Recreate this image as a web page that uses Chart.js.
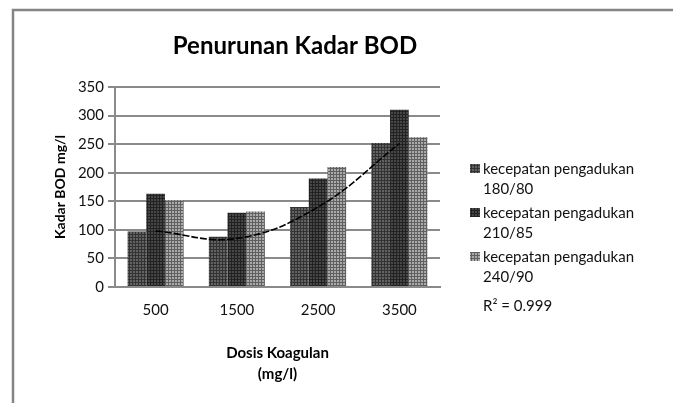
<!DOCTYPE html>
<html>
<head>
<meta charset="utf-8">
<script src="https://cdn.jsdelivr.net/npm/chart.js@4.4.0/dist/chart.umd.min.js"></script>
<style>
  html, body { margin: 0; padding: 0; background: #fff; }
  #wrap { position: relative; width: 673px; height: 403px; }
</style>
</head>
<body>
<div id="wrap"><canvas id="myChart" width="673" height="403"></canvas></div>
<script>
// data
var dosis = ['500', '1500', '2500', '3500'];
var kec180 = [97, 88, 140, 252];
var kec210 = [163, 130, 190, 310];
var kec240 = [152, 132, 210, 262];
var trend = [98, 85, 140, 251];
var seriesNames = [
  ['kecepatan pengadukan', '180/80'],
  ['kecepatan pengadukan', '210/85'],
  ['kecepatan pengadukan', '240/90']
];
var r2Text = 'R² = 0.999';
var yTicks = [0, 50, 100, 150, 200, 250, 300, 350];

var FONT = 'Lato, "Open Sans", sans-serif';
var ctx = document.getElementById('myChart');
var c2d = ctx.getContext('2d');

// small dotted textures for the bars
function texture(base, dot) {
  var c = document.createElement('canvas');
  c.width = 3; c.height = 3;
  var g = c.getContext('2d');
  g.fillStyle = base; g.fillRect(0, 0, 3, 3);
  g.fillStyle = dot;
  g.fillRect(0, 0, 1, 3);
  g.fillRect(0, 0, 3, 1);
  return c2d.createPattern(c, 'repeat');
}
var fills = [
  texture('#626262', '#333333'),
  texture('#474747', '#222222'),
  texture('#aaaaaa', '#606060')
];

// frame, title and legend drawn straight on the canvas
var extras = {
  id: 'extras',
  beforeDraw: function(chart) {
    var g = chart.ctx;
    g.save();
    g.strokeStyle = '#858585';
    g.lineWidth = 2.5;
    g.beginPath();
    g.moveTo(13, 403); g.lineTo(13, 10); g.lineTo(673, 10);
    g.stroke();
    g.restore();
  },
  afterDraw: function(chart) {
    var g = chart.ctx;
    g.save();
    g.fillStyle = '#000';
    g.font = 'bold 24px ' + FONT;
    g.textAlign = 'center';
    g.textBaseline = 'middle';
    g.fillText('Penurunan Kadar BOD', 295, 46);

    g.font = '15px ' + FONT;
    g.textAlign = 'left';
    var y0 = [169, 213, 257];
    for (var i = 0; i < seriesNames.length; i++) {
      g.fillStyle = fills[i];
      g.fillRect(470, y0[i] - 5, 10, 9);
      g.fillStyle = '#111';
      g.fillText(seriesNames[i][0], 483, y0[i]);
      g.fillText(seriesNames[i][1], 483, y0[i] + 20);
    }
    g.fillText(r2Text, 483, 306);
    g.restore();
  }
};

new Chart(ctx, {
  data: {
    labels: dosis,
    datasets: [
      { type: 'line', label: 'trend', data: trend, borderColor: '#000', borderWidth: 1.6,
        borderDash: [7, 2], pointRadius: 0, tension: 0.4, fill: false, order: 0 },
      { type: 'bar', label: seriesNames[0].join(' '), data: kec180, backgroundColor: fills[0], order: 1,
        categoryPercentage: 0.69, barPercentage: 1 },
      { type: 'bar', label: seriesNames[1].join(' '), data: kec210, backgroundColor: fills[1], order: 1,
        categoryPercentage: 0.69, barPercentage: 1 },
      { type: 'bar', label: seriesNames[2].join(' '), data: kec240, backgroundColor: fills[2], order: 1,
        categoryPercentage: 0.69, barPercentage: 1 }
    ]
  },
  options: {
    responsive: false,
    animation: false,
    events: [],
    layout: { padding: { left: 50, top: 87, right: 233, bottom: 14 } },
    plugins: {
      legend: { display: false },
      title: { display: false },
      tooltip: { enabled: false }
    },
    scales: {
      x: {
        grid: { display: false, drawTicks: false },
        border: { color: '#8a8a8a', width: 2 },
        ticks: { color: '#111', font: { family: FONT, size: 15 }, padding: 14 },
        title: { display: true, text: ['Dosis Koagulan', '(mg/l)'], color: '#000',
          font: { family: FONT, size: 15, weight: 'bold', lineHeight: 1.4 }, padding: { top: 14 } },
        afterFit: function(s) { s.height = 102; }
      },
      y: {
        z: 1,
        min: 0, max: 350,
        afterBuildTicks: function(s) { s.ticks = yTicks.map(function(v) { return { value: v }; }); },
        grid: { color: '#8a8a8a', lineWidth: 2, tickLength: 7 },
        border: { color: '#8a8a8a', width: 2 },
        ticks: { color: '#111', font: { family: FONT, size: 15 }, padding: 4 },
        title: { display: true, text: 'Kadar BOD mg/l', color: '#000',
          font: { family: FONT, size: 14, weight: 'bold' }, padding: 2 },
        afterFit: function(s) { s.width = 65; }
      }
    }
  },
  plugins: [extras]
});
</script>
</body>
</html>
